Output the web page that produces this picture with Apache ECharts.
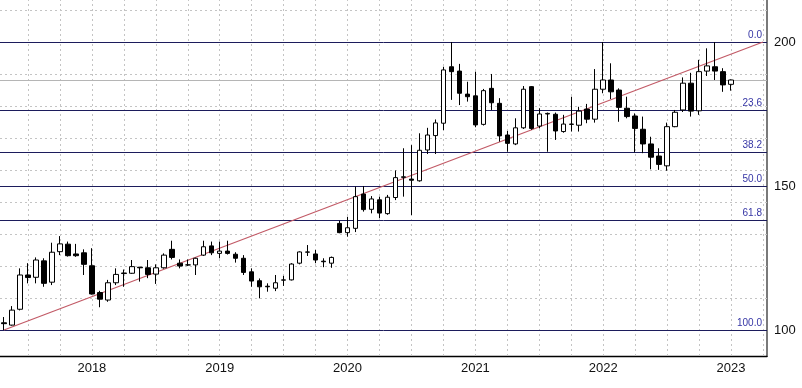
<!DOCTYPE html>
<html>
<head>
<meta charset="utf-8">
<script src="https://cdn.jsdelivr.net/npm/echarts@6/dist/echarts.min.js"></script>
<style>
html,body{margin:0;padding:0;background:#fff;}
#c{width:802px;height:388px;}
</style>
</head>
<body>
<div id="c"></div>
<script>
// ---- data ----
var openV  = [102.5,101.7,107.2,119.1,118.3,124.0,116.6,127.2,129.8,126.4,126.8,122.3,113.0,110.4,116.4,119.6,119.7,121.8,121.6,119.4,121.6,128.0,123.2,122.6,122.6,126.0,129.2,126.6,127.4,126.3,124.9,120.2,117.1,115.2,114.5,117.3,117.4,123.2,127.0,126.4,123.9,123.2,137.0,133.8,135.3,147.2,141.9,145.2,140.4,146.0,153.0,152.4,151.8,162.5,167.5,171.8,191.4,189.9,181.9,181.3,171.4,183.9,178.7,167.7,164.6,170.2,184.5,170.8,175.0,174.9,168.9,171.4,171.1,176.7,173.2,183.6,186.8,183.3,177.0,174.3,169.7,164.6,160.4,157.0,170.6,176.4,185.7,176.1,189.9,191.4,189.7,185.3];
var closeV = [102.2,106.9,119.1,118.2,124.3,116.2,127.0,129.9,125.8,125.8,122.8,112.5,110.7,116.4,119.3,119.8,122.0,121.6,119.3,121.6,126.0,125.2,122.2,122.6,124.9,128.9,126.8,127.4,126.6,124.9,120.0,117.0,115.0,115.0,116.4,117.4,122.9,127.1,127.1,124.3,123.7,125.2,133.8,135.5,146.3,141.8,145.5,140.6,146.1,152.9,153.2,152.0,162.4,167.7,171.9,190.3,189.7,182.2,181.0,171.2,183.1,178.9,167.4,164.8,170.2,183.6,170.0,175.0,175.2,169.1,171.5,171.5,176.0,173.2,183.6,186.8,182.7,177.3,174.1,170.0,164.6,160.0,157.5,170.6,175.6,185.7,176.0,189.7,191.7,189.9,185.1,186.8];
var lowV   = [100.0,101.5,106.8,116.2,116.2,115.0,115.6,126.0,125.5,125.4,119.1,112.3,107.9,109.8,115.6,115.0,119.5,116.8,118.0,116.0,121.3,124.5,121.4,122.2,119.1,125.7,126.0,124.9,126.2,123.4,119.1,115.0,111.0,113.3,113.5,115.3,117.2,122.8,125.7,123.2,121.8,121.6,133.6,132.4,134.0,141.1,140.5,138.8,140.0,145.1,146.3,139.9,151.5,161.1,161.1,169.4,179.9,178.1,179.3,170.4,171.0,176.4,165.4,161.9,164.2,169.8,169.5,170.0,161.9,166.0,168.5,168.9,168.9,171.8,172.0,182.2,180.2,172.3,173.5,161.7,161.4,155.8,155.6,155.3,170.4,175.7,174.1,174.7,188.2,186.8,182.7,183.1];
var highV  = [104.5,108.3,121.4,123.2,125.2,124.9,130.3,132.6,130.7,129.9,128.0,128.4,113.6,117.4,121.4,121.0,124.3,121.9,124.3,122.8,126.6,131.0,124.5,124.5,125.1,131.0,130.7,130.7,131.0,127.0,126.0,121.4,117.9,116.2,119.1,118.8,123.2,127.3,129.5,127.8,124.9,125.5,137.9,139.3,149.8,150.0,146.5,146.3,146.9,155.4,163.1,164.2,168.3,170.2,173.1,191.4,200.0,192.4,186.2,189.7,183.7,188.9,180.5,169.1,173.5,184.7,184.7,177.0,175.5,175.5,174.7,181.0,177.5,178.5,190.6,200.0,192.6,183.9,181.0,175.2,174.1,167.1,163.1,172.0,176.4,187.7,189.3,193.8,197.8,200.0,190.9,187.0];

var yearLabels = ['2018','2019','2020','2021','2022','2023'];
var yearIndex  = [11, 27, 43, 59, 75, 91];
var slotCount  = 96;              // candle slots incl. empty right margin
var yTickValues = [100, 150, 200];
var fibHigh = 200, fibLow = 100;
var fibLevels = ['0.0','23.6','38.2','50.0','61.8','100.0'];
var gridDivisions = 9;            // dashed grid divides the fib range in 9

// ---- build ----
var cats = [];
for (var i = 0; i < slotCount; i++) {
  var k = yearIndex.indexOf(i);
  cats.push(k >= 0 ? yearLabels[k] : 'c' + i);
}
var candles = [];
for (var j = 0; j < openV.length; j++) candles.push([openV[j], closeV[j], lowV[j], highV[j]]);

var gridLines = [];
for (var v = 3; v < slotCount; v += 4) gridLines.push({xAxis: cats[v]});
var step = (fibHigh - fibLow) / gridDivisions;
for (var h = -1; h <= gridDivisions; h++) gridLines.push({yAxis: fibHigh - h * step});

var fibLines = fibLevels.map(function (l) {
  return {yAxis: fibHigh - parseFloat(l) / 100 * (fibHigh - fibLow), name: l};
});

var chart = echarts.init(document.getElementById('c'), null, {renderer: 'canvas'});
chart.setOption({
  animation: false,
  backgroundColor: '#ffffff',
  grid: {left: -1, top: 0, width: 768, height: 356, containLabel: false},
  xAxis: {
    type: 'category', data: cats, boundaryGap: true,
    axisLine: {show: true, lineStyle: {color: '#000', width: 1.3}},
    axisTick: {show: false},
    splitLine: {show: false},
    axisLabel: {
      interval: function (idx) { return yearIndex.indexOf(idx) >= 0; },
      formatter: function (val) { return val; },
      color: '#111', fontSize: 13, fontFamily: 'Liberation Sans, Arial, sans-serif', margin: 6
    }
  },
  yAxis: {
    type: 'value', position: 'right', min: 90.97, max: 214.58,
    axisLine: {show: true, lineStyle: {color: '#7a7a7a', width: 2}},
    axisTick: {show: false},
    splitLine: {show: false},
    axisLabel: {customValues: yTickValues, color: '#111', fontSize: 13,
      fontFamily: 'Liberation Sans, Arial, sans-serif', margin: 7}
  },
  series: [
    {
      type: 'line', data: [], silent: true,
      markLine: {
        silent: true, symbol: ['none', 'none'], z: 1, animation: false,
        label: {show: false},
        lineStyle: {color: '#c4c4c4', type: [2, 3], width: 1},
        emphasis: {disabled: true},
        data: gridLines
      }
    },
    {
      type: 'line', data: [], silent: true,
      markLine: {
        silent: true, symbol: ['none', 'none'], z: 2, animation: false,
        lineStyle: {color: '#1c1c5c', type: 'solid', width: 1},
        label: {show: true, position: 'insideEndTop', distance: [5, 2],
          formatter: function (p) { return p.name; },
          color: '#3535a5', fontSize: 10, fontFamily: 'Liberation Sans, Arial, sans-serif'},
        emphasis: {disabled: true},
        data: fibLines
      }
    },
    {
      type: 'line', data: [], silent: true,
      markLine: {
        silent: true, symbol: ['none', 'none'], z: 3, animation: false,
        label: {show: false},
        emphasis: {disabled: true},
        data: [
          {yAxis: closeV[closeV.length - 1], lineStyle: {color: '#b5b5b5', width: 1, type: 'solid'}},
          [{coord: [cats[0], lowV[0]], lineStyle: {color: '#c25a66', width: 1.2, type: 'solid'}},
           {coord: [cats[slotCount - 1], fibHigh]}]
        ]
      }
    },
    {
      type: 'candlestick', data: candles, z: 5, barWidth: 5,
      itemStyle: {color: '#ffffff', color0: '#000000', borderColor: '#000000', borderColor0: '#000000', borderWidth: 1}
    }
  ]
});
</script>
</body>
</html>
